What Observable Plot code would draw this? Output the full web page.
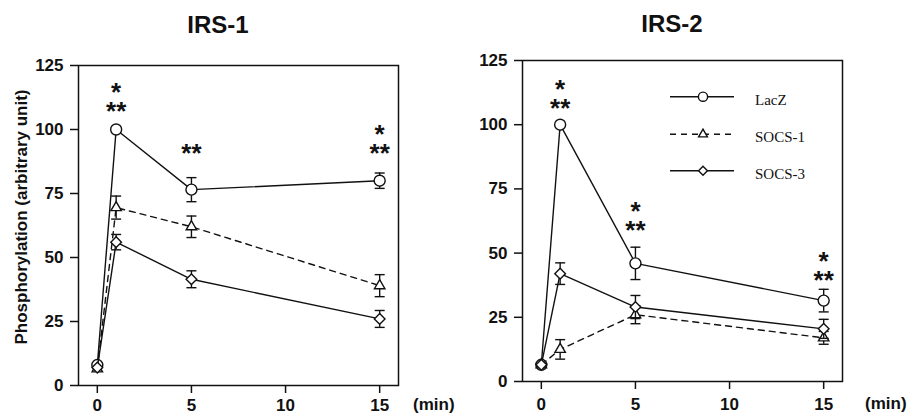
<!DOCTYPE html>
<html>
<head>
<meta charset="utf-8">
<script src="https://cdn.jsdelivr.net/npm/d3@7"></script>
<script src="https://cdn.jsdelivr.net/npm/@observablehq/plot@0.6"></script>
<style>
  body { margin: 0; background: #fff; }
  #wrap { position: relative; width: 907px; height: 414px; overflow: hidden; background: #fff; }
  #p1, #p2 { position: absolute; top: 0; }
  #p1 { left: 0; }
  #p2 { left: 453px; }
  #overlay { position: absolute; left: 0; top: 0; pointer-events: none; }
</style>
</head>
<body>
<div id="wrap">
  <div id="p1"></div>
  <div id="p2"></div>
  <svg id="overlay" width="907" height="414"></svg>
</div>
<script>
// ---- data ----
const times = [0, 1, 5, 15];
const xTicks = [0, 5, 10, 15];
const yTicks = [0, 25, 50, 75, 100, 125];
const seriesNames = ["LacZ", "SOCS-1", "SOCS-3"];
const panelTitles = ["IRS-1", "IRS-2"];
const yLabel = "Phosphorylation (arbitrary unit)";
const xUnit = "(min)";

// IRS-1
const irs1LacZ = [8, 100, 76.5, 80];
const irs1LacZErr = [0, 0, 4.7, 3.0];
const irs1Socs1 = [6.5, 69.5, 62, 39];
const irs1Socs1Err = [0, 4.5, 4.2, 4.3];
const irs1Socs3 = [7, 56, 41.5, 26];
const irs1Socs3Err = [0, 3.0, 3.3, 3.3];
const irs1Stars = [
  {t: 1, s: "*\n**", v: 111.6},
  {t: 5, s: "**", v: 91.6},
  {t: 15, s: "*\n**", v: 95.3}
];

// IRS-2
const irs2LacZ = [6.5, 100, 46, 31.5];
const irs2LacZErr = [0, 0, 6.3, 4.4];
const irs2Socs1 = [6.5, 12.5, 26, 17];
const irs2Socs1Err = [0, 3.8, 3.5, 2.5];
const irs2Socs3 = [6.5, 42, 29, 20.5];
const irs2Socs3Err = [0, 4.2, 4.5, 3.7];
const irs2Stars = [
  {t: 1, s: "*\n**", v: 111.0},
  {t: 5, s: "*\n**", v: 63.5},
  {t: 15, s: "*\n**", v: 44.0}
];

// ---- helpers ----
const ink = "#111";
const series = (vals, errs) => times.map((t, i) => ({t, v: vals[i], e: errs[i]}));
const capSymbol = {
  draw(ctx, size) {
    const w = Math.sqrt(size / Math.PI);
    ctx.moveTo(-w, 0); ctx.lineTo(w, 0);
  }
};
const styles = [
  {symbol: "circle", r: 5.5, dash: null},
  {symbol: "triangle2", r: 5, dash: "6,5"},
  {symbol: "diamond2", r: 4.8, dash: null}
];

function seriesMarks(d, st) {
  const withErr = d.filter(p => p.e > 0);
  return [
    Plot.line(d, {x: "t", y: "v", stroke: ink, strokeWidth: 1.4, strokeDasharray: st.dash}),
    Plot.ruleX(withErr, {x: "t", y1: p => p.v - p.e, y2: p => p.v + p.e, stroke: ink, strokeWidth: 1.4}),
    Plot.dot(withErr, {x: "t", y: p => p.v + p.e, symbol: capSymbol, r: 5, stroke: ink, strokeWidth: 1.4}),
    Plot.dot(withErr, {x: "t", y: p => p.v - p.e, symbol: capSymbol, r: 5, stroke: ink, strokeWidth: 1.4}),
    Plot.dot(d, {x: "t", y: "v", symbol: st.symbol, r: st.r, fill: "white", stroke: ink, strokeWidth: 1.4})
  ];
}

function panel(groups, stars, dims) {
  return Plot.plot({
    width: dims.width, height: 414,
    marginLeft: dims.ml, marginRight: dims.mr, marginTop: dims.mt, marginBottom: dims.mb,
    x: {domain: [-1, 16]},
    y: {domain: [0, 125]},
    style: {fontFamily: "'Liberation Sans', Arial, sans-serif", fontSize: "17px", fontWeight: "bold", color: ink, background: "white"},
    marks: [
      Plot.axisX({ticks: xTicks, tickSize: 8, tickPadding: dims.xpad, label: null, strokeWidth: 1.5}),
      Plot.axisY({ticks: yTicks, tickSize: 8, tickPadding: 7, label: null, strokeWidth: 1.5}),
      Plot.frame({stroke: ink, strokeWidth: 1.5}),
      ...groups.flatMap((g, i) => seriesMarks(g, styles[i])),
      Plot.text(stars, {x: "t", y: "v", text: "s", fontSize: 26, fontWeight: "bold", lineHeight: 0.71, dy: 5, fill: ink})
    ]
  });
}

document.getElementById("p1").append(panel(
  [series(irs1LacZ, irs1LacZErr), series(irs1Socs1, irs1Socs1Err), series(irs1Socs3, irs1Socs3Err)],
  irs1Stars, {width: 453, ml: 78, mr: 55, mt: 65, mb: 29, xpad: 5}
));
document.getElementById("p2").append(panel(
  [series(irs2LacZ, irs2LacZErr), series(irs2Socs1, irs2Socs1Err), series(irs2Socs3, irs2Socs3Err)],
  irs2Stars, {width: 454, ml: 69, mr: 65, mt: 60, mb: 33, xpad: 8}
));

// ---- overlay: titles, axis label, unit labels, legend ----
const ov = d3.select("#overlay");
const sans = "'Liberation Sans', Arial, sans-serif";
ov.append("text").attr("x", 218).attr("y", 33).attr("text-anchor", "middle")
  .attr("font-family", sans).attr("font-size", 24).attr("font-weight", "bold").attr("fill", ink).text(panelTitles[0]);
ov.append("text").attr("x", 672).attr("y", 32).attr("text-anchor", "middle")
  .attr("font-family", sans).attr("font-size", 24).attr("font-weight", "bold").attr("fill", ink).text(panelTitles[1]);
ov.append("text").attr("transform", "translate(26.5,217) rotate(-90)").attr("text-anchor", "middle")
  .attr("font-family", sans).attr("font-size", 17).attr("font-weight", "bold").attr("fill", ink).text(yLabel);
ov.append("text").attr("x", 413).attr("y", 410).attr("font-family", sans).attr("font-size", 17)
  .attr("font-weight", "bold").attr("fill", ink).text(xUnit);
ov.append("text").attr("x", 865).attr("y", 409).attr("font-family", sans).attr("font-size", 17)
  .attr("font-weight", "bold").attr("fill", ink).text(xUnit);

const legendSyms = [d3.symbolCircle, d3.symbolTriangle2, d3.symbolDiamond2];
const legendR = [4.6, 4.2, 4.0];
const legendY = [96.7, 134.3, 170.7];
seriesNames.forEach((name, i) => {
  const g = ov.append("g").attr("transform", `translate(0,${legendY[i]})`);
  g.append("line").attr("x1", 670).attr("x2", 734).attr("y1", 0).attr("y2", 0)
    .attr("stroke", ink).attr("stroke-width", 1.4).attr("stroke-dasharray", styles[i].dash);
  g.append("path").attr("transform", "translate(703,0)")
    .attr("d", d3.symbol(legendSyms[i], Math.PI * legendR[i] * legendR[i])())
    .attr("fill", "white").attr("stroke", ink).attr("stroke-width", 1.4);
  g.append("text").attr("x", 755).attr("y", 8).attr("font-family", "'Liberation Serif', 'Times New Roman', serif")
    .attr("font-size", 15).attr("fill", ink).text(name);
});
</script>
</body>
</html>
